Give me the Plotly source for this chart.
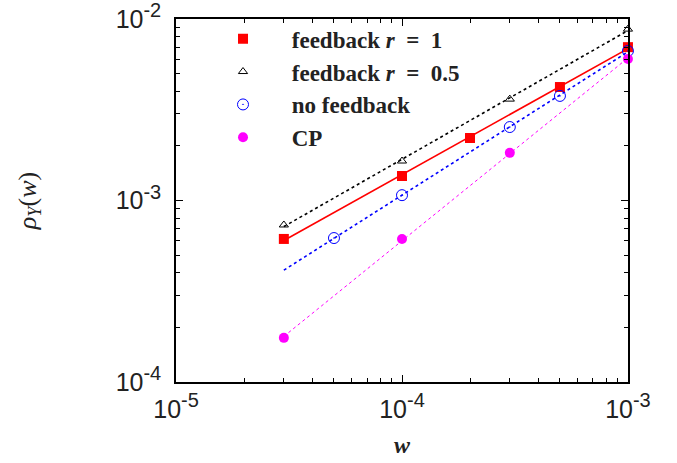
import numpy as np
import plotly.graph_objects as go

# data
w_fb1 = [3e-5, 1e-4, 2e-4, 5e-4, 1e-3]
rho_fb1 = [6.14e-4, 1.365e-3, 2.21e-3, 4.22e-3, 7.0e-3]

w_fb05 = [3e-5, 1e-4, 3e-4, 1e-3]
rho_fb05 = [7.33e-4, 1.65e-3, 3.62e-3, 8.8e-3]

w_nofb = [5e-5, 1e-4, 3e-4, 5e-4, 1e-3]
rho_nofb = [6.21e-4, 1.07e-3, 2.54e-3, 3.77e-3, 6.67e-3]

w_cp = [3e-5, 1e-4, 3e-4, 1e-3]
rho_cp = [1.75e-4, 6.14e-4, 1.83e-3, 6.02e-3]

fit_range = [3e-5, 1e-3]

x_tickvals = [1e-5, 1e-4, 1e-3]
x_ticktext = ["10<sup><span style='font-size:20px'>-5</span></sup>",
              "10<sup><span style='font-size:20px'>-4</span></sup>",
              "10<sup><span style='font-size:20px'>-3</span></sup>"]
y_tickvals = [1e-4, 1e-3, 1e-2]
y_ticktext = ["10<sup><span style='font-size:20px'>-4</span></sup>",
              "10<sup><span style='font-size:20px'>-3</span></sup>",
              "10<sup><span style='font-size:20px'>-2</span></sup>"]
x_minor = [k * 10.0 ** e for e in (-5, -4) for k in range(2, 10)]
y_minor = [k * 10.0 ** e for e in (-4, -3) for k in range(2, 10)]


def fit_line(xs, ys, xr):
    p = np.polyfit(np.log10(xs), np.log10(ys), 1)
    xr = np.array(xr)
    return xr, 10 ** np.polyval(p, np.log10(xr))


fig = go.Figure()

EQ = "\u2002=\u2002"
series = [
    ("feedback <i>r</i>" + EQ + "1", w_fb1, rho_fb1, "red", "solid", 1.6,
     dict(symbol="square", size=10, color="red")),
    ("feedback <i>r</i>" + EQ + "0.5", w_fb05, rho_fb05, "black", "dot", 1.6,
     dict(symbol="triangle-up-open", size=8, color="black", line=dict(width=1))),
    ("no feedback", w_nofb, rho_nofb, "blue", "dot", 1.6,
     dict(symbol="circle-open-dot", size=11, color="blue", line=dict(width=1))),
    ("CP", w_cp, rho_cp, "magenta", "dot", 1.0,
     dict(symbol="circle", size=10, color="magenta")),
]

for name, xs, ys, col, dash, lw, mk in series:
    fx, fy = fit_line(xs, ys, fit_range)
    fig.add_trace(go.Scatter(x=fx, y=fy, mode="lines", showlegend=False,
                             line=dict(color=col, dash=dash, width=lw),
                             hoverinfo="skip"))

for name, xs, ys, col, dash, lw, mk in series:
    fig.add_trace(go.Scatter(x=xs, y=ys, mode="markers", name="\u2003\u2005" + name,
                             marker=mk, cliponaxis=False))

axis_common = dict(
    type="log",
    automargin=False,
    showgrid=False,
    zeroline=False,
    showline=True,
    linecolor="black",
    linewidth=1.5,
    mirror="allticks",
    ticks="inside",
    ticklen=7,
    tickwidth=1,
    tickcolor="black",
    ticklabeloverflow="allow",
    tickfont=dict(family="Liberation Sans, Arial, sans-serif", size=25, color="#222"),
)

minor_common = dict(ticks="inside", ticklen=4, tickwidth=1, tickcolor="black",
                    tickmode="array", showgrid=False)

fig.update_xaxes(**axis_common, range=[-5.0002, -2.9998], tickvals=x_tickvals,
                 ticktext=x_ticktext, ticklabelstandoff=4,
                 minor=dict(**minor_common, tickvals=x_minor),
                 title=dict(text="<i><b>w</b></i>", standoff=14,
                            font=dict(family="Liberation Serif, serif", size=24, color="#222")))
fig.update_yaxes(**axis_common, range=[-4.0002, -1.9998], tickvals=y_tickvals,
                 ticktext=y_ticktext, ticklabelstandoff=8,
                 minor=dict(**minor_common, tickvals=y_minor),
                 title=dict(text="<i>ρ<sub>Y</sub></i>(<i>w</i>)", standoff=72,
                            font=dict(family="Liberation Serif, serif", size=26, color="#222")))

fig.update_layout(
    width=677, height=463,
    margin=dict(l=176, r=49, t=19, b=81, autoexpand=False),
    plot_bgcolor="white", paper_bgcolor="white",
    legend=dict(x=0.104, y=1.005, xanchor="left", yanchor="top",
                bgcolor="rgba(0,0,0,0)", itemwidth=30, tracegroupgap=0,
                font=dict(family="Liberation Serif, serif", size=23, color="#222",
                          weight="bold")),
)

fig.write_html("out.html")
